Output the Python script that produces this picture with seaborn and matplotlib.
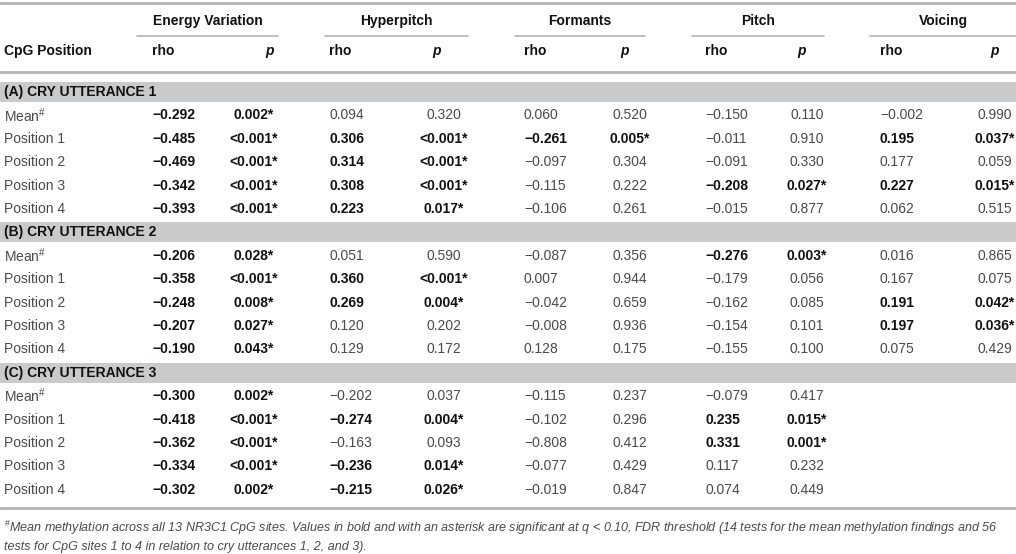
import matplotlib
matplotlib.use('Agg')
import matplotlib.pyplot as plt
import seaborn as sns

# table content
features = ['Energy Variation', 'Hyperpitch', 'Formants', 'Pitch', 'Voicing']
positions = ['Mean', 'Position 1', 'Position 2', 'Position 3', 'Position 4']
sections = ['(A) CRY UTTERANCE 1', '(B) CRY UTTERANCE 2', '(C) CRY UTTERANCE 3']

# rho values, rows = positions, cols = features (None = no value)
rho_a = [[-0.292, 0.094, 0.060, -0.150, -0.002],
         [-0.485, 0.306, -0.261, -0.011, 0.195],
         [-0.469, 0.314, -0.097, -0.091, 0.177],
         [-0.342, 0.308, -0.115, -0.208, 0.227],
         [-0.393, 0.223, -0.106, -0.015, 0.062]]
p_a = [['0.002*', '0.320', '0.520', '0.110', '0.990'],
       ['<0.001*', '<0.001*', '0.005*', '0.910', '0.037*'],
       ['<0.001*', '<0.001*', '0.304', '0.330', '0.059'],
       ['<0.001*', '<0.001*', '0.222', '0.027*', '0.015*'],
       ['<0.001*', '0.017*', '0.261', '0.877', '0.515']]

rho_b = [[-0.206, 0.051, -0.087, -0.276, 0.016],
         [-0.358, 0.360, 0.007, -0.179, 0.167],
         [-0.248, 0.269, -0.042, -0.162, 0.191],
         [-0.207, 0.120, -0.008, -0.154, 0.197],
         [-0.190, 0.129, 0.128, -0.155, 0.075]]
p_b = [['0.028*', '0.590', '0.356', '0.003*', '0.865'],
       ['<0.001*', '<0.001*', '0.944', '0.056', '0.075'],
       ['0.008*', '0.004*', '0.659', '0.085', '0.042*'],
       ['0.027*', '0.202', '0.936', '0.101', '0.036*'],
       ['0.043*', '0.172', '0.175', '0.100', '0.429']]

rho_c = [[-0.300, -0.202, -0.115, -0.079, None],
         [-0.418, -0.274, -0.102, 0.235, None],
         [-0.362, -0.163, -0.808, 0.331, None],
         [-0.334, -0.236, -0.077, 0.117, None],
         [-0.302, -0.215, -0.019, 0.074, None]]
p_c = [['0.002*', '0.037', '0.237', '0.417', None],
       ['<0.001*', '0.004*', '0.296', '0.015*', None],
       ['<0.001*', '0.093', '0.412', '0.001*', None],
       ['<0.001*', '0.014*', '0.429', '0.232', None],
       ['0.002*', '0.026*', '0.847', '0.449', None]]

footnote_1 = ('$^{\\#}$Mean methylation across all 13 NR3C1 CpG sites. Values in bold and with an asterisk '
              'are significant at q < 0.10, FDR threshold (14 tests for the mean methylation findings and 56')
footnote_2 = 'tests for CpG sites 1 to 4 in relation to cry utterances 1, 2, and 3).'

sns.set_theme(style='white')
plt.rcParams['font.family'] = ['Liberation Sans', 'DejaVu Sans']
plt.rcParams['mathtext.fontset'] = 'custom'
plt.rcParams['mathtext.rm'] = 'Liberation Sans'
plt.rcParams['mathtext.it'] = 'Liberation Sans:italic'
plt.rcParams['mathtext.bf'] = 'Liberation Sans:bold'

fig = plt.figure(figsize=(10.16, 5.54), dpi=100)
ax = fig.add_axes([0, 0, 1, 1])
ax.set_xlim(0, 1016)
ax.set_ylim(554, 0)
ax.axis('off')

line_col = '#b4b4b4'
band_col = '#c9cacc'
reg_col = '#4a4a4a'
bold_col = '#111111'
fs = 10

rho_x = [152, 329, 524, 705, 880]
p_x = [254, 444, 630, 807, 995]
p_head_x = [270, 437, 625, 802, 995]
spans = [(137, 278), (325, 468), (515, 645), (692, 824), (870, 1016)]

# header
ax.axhline(3, color=line_col, lw=2)
for name, (x0, x1) in zip(features, spans):
    ax.text((x0 + x1) / 2, 21, name, ha='center', va='center', fontsize=fs, fontweight='bold', color=bold_col)
    ax.plot([x0, x1], [36, 36], color=line_col, lw=1.2)
ax.text(4, 51, 'CpG Position', ha='left', va='center', fontsize=fs, fontweight='bold', color=bold_col)
for rx, px in zip(rho_x, p_head_x):
    ax.text(rx, 51, 'rho', ha='left', va='center', fontsize=fs, fontweight='bold', color=bold_col)
    ax.text(px, 51, 'p', ha='center', va='center', fontsize=fs, fontweight='bold', style='italic', color=bold_col)
ax.axhline(72, color=line_col, lw=2)


def fmt(v):
    return '{:.3f}'.format(v).replace('-', '\u2212')


pitch = 23.4
y = 92
for sec, rho, pv in zip(sections, [rho_a, rho_b, rho_c], [p_a, p_b, p_c]):
    ax.axhspan(y - 10, y + 10, color=band_col, lw=0)
    ax.text(4, y, sec, ha='left', va='center', fontsize=fs, fontweight='bold', color=bold_col)
    y += pitch
    for i, lab in enumerate(positions):
        label = lab + '$^{\\#}$' if lab == 'Mean' else lab
        ax.text(4, y, label, ha='left', va='center', fontsize=fs, color=reg_col)
        for j in range(len(features)):
            if rho[i][j] is None:
                continue
            sig = '*' in pv[i][j]
            w = 'bold' if sig else 'normal'
            c = bold_col if sig else reg_col
            ax.text(rho_x[j], y, fmt(rho[i][j]), ha='left', va='center', fontsize=fs, fontweight=w, color=c)
            ax.text(p_x[j], y, pv[i][j], ha='center', va='center', fontsize=fs, fontweight=w, color=c)
        y += pitch

ax.axhline(508, color=line_col, lw=2)
ax.text(4, 528, footnote_1, ha='left', va='center', fontsize=9.0, style='italic', color=reg_col)
ax.text(4, 547, footnote_2, ha='left', va='center', fontsize=9.0, style='italic', color=reg_col)

fig.savefig('out.png', dpi=100)
